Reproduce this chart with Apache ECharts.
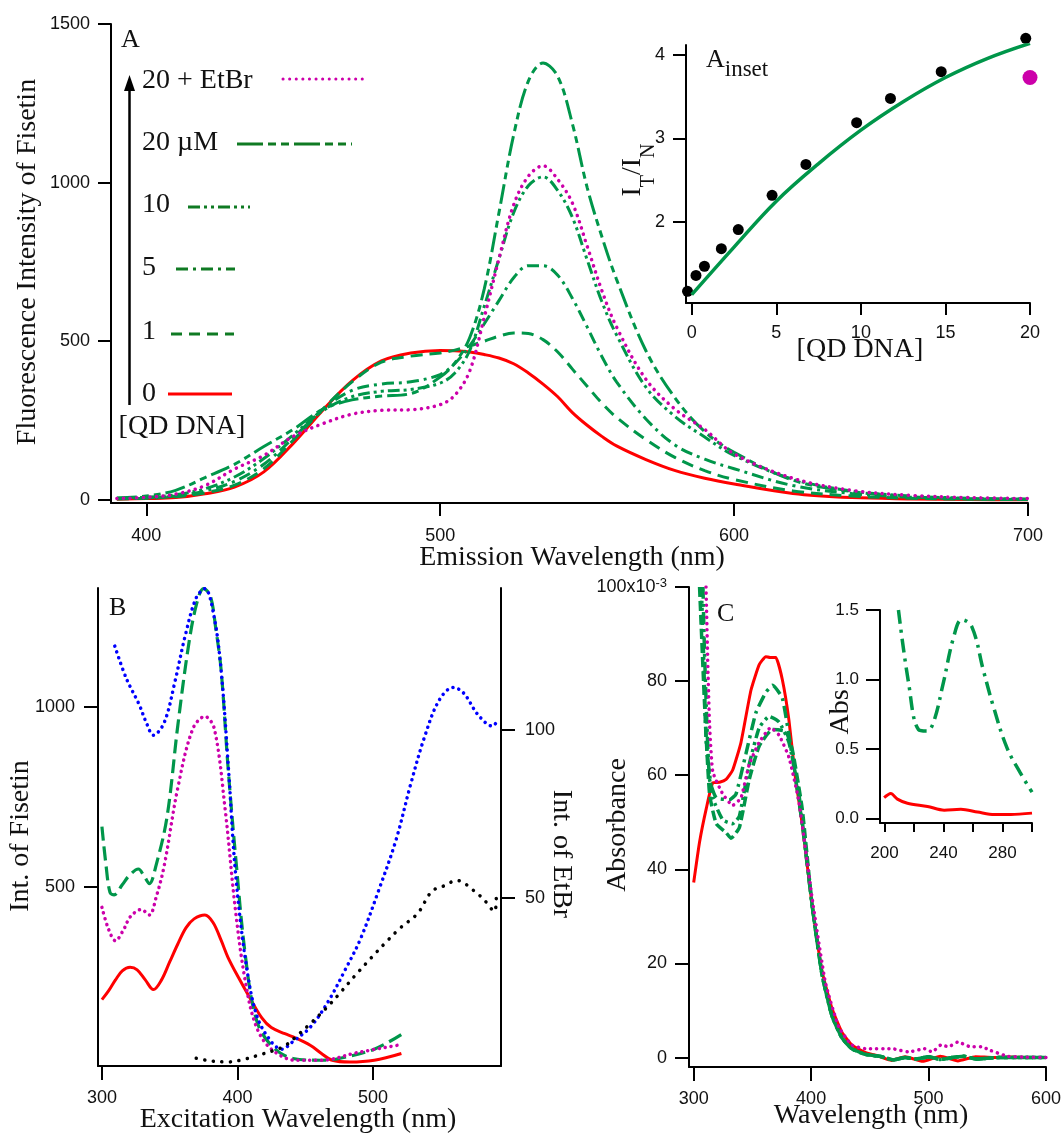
<!DOCTYPE html>
<html><head><meta charset="utf-8">
<script src="https://cdn.jsdelivr.net/npm/echarts@6/dist/echarts.min.js"></script>
<style>html,body{margin:0;padding:0;background:#fff}#c{width:1064px;height:1136px}</style>
</head><body><div id="c"></div><script>
// ---------- Panel A : emission spectra ----------
const aWl   = [390,400,410,420,430,440,450,460,470,480,490,500,505,510,515,520,525,530,535,540,545,550,555,560,570,580,590,600,620,640,660,680,700];
const aQd0  = [2,4,7,19,40,88,178,282,375,438,463,471,470,466,458,447,429,400,365,325,275,235,200,170,127,92,68,50,20,7,3,1,0];
const aQd1  = [3,5,10,22,46,98,188,285,372,434,453,463,472,485,500,516,526,524,505,466,412,358,305,260,190,133,92,64,28,12,5,2,1];
const aQd5  = [4,6,12,28,58,112,195,285,345,365,372,395,430,485,555,628,700,738,738,708,635,545,452,372,255,172,128,98,45,20,8,3,1];
const aQd10 = [5,8,16,35,72,130,205,280,325,342,348,368,400,470,610,760,905,990,1018,975,890,757,625,520,355,262,198,140,65,28,12,5,2];
const aQd20 = [6,12,30,70,112,168,222,285,315,327,335,387,432,510,665,905,1150,1320,1377,1335,1185,985,830,695,470,320,215,150,62,26,10,4,2];
const aEtBr = [4,8,18,45,97,140,200,240,270,282,284,300,330,405,575,760,930,1020,1053,1010,935,800,660,545,380,285,222,145,68,30,14,7,4];
const aXTicks = [400,500,600,700];
const aYTicks = [0,500,1000,1500];
const legendLabels = ['20 + EtBr','20 \u00b5M','10','5','1','0'];

// ---------- Panel A inset ----------
const insQd      = [-0.25,0.25,0.75,1.75,2.75,4.75,6.75,9.75,11.75,14.75,19.75];
const insRatio   = [1.17,1.36,1.47,1.68,1.91,2.32,2.69,3.19,3.48,3.80,4.20];
const insEtQd    = [20];
const insEtRatio = [3.73];
const fitQd      = [0,2.5,5,7.5,10,12.5,15,17.5,20];
const fitRatio   = [1.13,1.70,2.25,2.70,3.10,3.44,3.73,3.96,4.14];
const insXTicks = [0,5,10,15,20];
const insYTicks = [2,3,4];

// ---------- Panel B : excitation spectra ----------
const bRedX   = [300,305,310,315,320.8,326,332,338,344,350,356,362,368,376,382,388,393,401,409,418,425,435,443,454,462,470,483,501,521];
const bRedY   = [185,210,240,265,275,268,240,213,240,290,340,385,410,421,400,350,303,245,191,134,107,90,78,57,35,16,11,16,35];
const bGreenX = [300,303,306,309,315,320,326.9,331,335,340,348,356,364,370,375,380,384,388,393,398.5,406,414,425,441,462,475,501,521];
const bGreenY = [667,560,483,477,505,530,549,530,508,560,693,949,1174,1290,1330,1310,1220,1102,836,590,303,129,57,21,16,21,47,88];
const bMagX   = [300,305,310,316,321,329,335,340,346,356,367,376,383,391,398.5,406,414,425,443,462,488,520];
const bMagY   = [442,380,349,380,416,436,421,470,559,775,939,974,939,713,436,232,109,47,16,16,37,59];
const bBlueX  = [309.5,318,327.4,332.7,338,346,353.8,361.7,369.6,376,382.7,388,393.3,398.6,406.5,414.4,425,432.8,440.7,453.9,467,480,490.8,504,517,527.7,538,548.7,559.3,567,577.7,588.3,591];
const bBlueY  = [124.9,115.3,107.6,102.2,98.4,102.2,114.2,128.4,139.3,142,133.8,117.5,89,57.4,30.1,14.8,7.2,5,7.2,11.6,19.2,29,37.8,52,67.2,83.6,97.8,108.7,112.6,110.9,104.4,101.1,102.2];
const bBlackX = [369.6,380,393,405,417,426,435,444,454,465,475,487,499,510,520,533,543.5,552,562,575,583,589.6,591];
const bBlackY = [2.3,1.5,1.2,2,3.4,4.5,6,9,12.7,17,21.4,27,32.3,37,41,45.4,52,53.5,55.2,52,49,46,49.8];
const bXTicks = [300,400,500];
const bLTicks = [500,1000];
const bRTicks = [50,100];

// ---------- Panel C : absorbance (x10^-3) ----------
const cRedX = [300,305,310.7,316.3,322,327.6,333.2,340.3,348.7,355.8,361.4,365,369.9,375.5,381.1,386.8,392.4,400.8,409.3,417.7,426.2,434.6,445.9,455,468.5,480,495,510,525,540,555,570,585,600];
const cRedY = [37.2,45.8,52.9,58.4,58.5,59.1,61.1,67,78,83.5,85.2,85,85,80.3,71.7,59.1,49.7,32.5,18.4,10.5,5.4,2.7,1.1,0.5,-0.6,0.2,-0.8,0.3,-0.7,0.2,0,0.1,0,0];
const cMagX = [310.5,312.1,313.5,316.3,324.8,333.2,340.3,347.3,355.8,365.6,372.7,381.1,389.6,400.8,412.1,423.4,434.6,445.9,468.5,483,496.6,503,510.7,517,524.8,536,545,553,567,580,600];
const cMagY = [100,82.7,70.9,60.7,56,53.6,55.2,62.3,67,70.1,68.5,63.8,54.4,34,16,6.6,2.7,1.9,1.9,1.2,1.9,1.2,2.7,2.3,3.3,2.3,2.3,1.5,0.3,0.1,0];
const cG1X = [307.9,309,310.7,313.5,319.2,330.4,336,344.5,353,361.4,367,375.5,384,392.4];
const cG1Y = [100,88,74.8,59.1,55.2,54.8,56,64.6,73.3,77.6,79.1,76.4,63.8,49.7];
const cG2X = [306.5,308.5,310.7,316.3,324.8,333.2,338.9,347.3,355.8,364.2,372.7,381.1,389.6];
const cG2Y = [100,85,67,55.2,50.5,49.7,51.3,62.3,70.1,72.5,71.3,67,56];
const cG3X = [305,309.3,313.5,319.2,327.6,331.8,338.9,347.3,355.8,367,378.3,384,392.4];
const cG3Y = [100,74.8,56,49.7,47.8,46.6,48.9,59.1,66.2,69.7,69.3,65.4,52.9];
const cTailX = [400.8,409.3,417.7,426.2,434.6,445.9,460,470,480,490,500,510,520,530,540,560,580,600];
const cTailY = [32.5,17.6,8.9,4.2,1.9,0.7,0.2,-0.5,0,-0.3,0.2,-0.4,0,0.3,-0.3,0,0,0];
const cXTicks = [300,400,500,600];
const cYTicks = [0,20,40,60,80,100];

// ---------- Panel C inset ----------
const ciGreenX = [209.5,216.3,223.1,228.7,233.2,240,246.8,252.5,259.2,267.2,274,283,292,300];
const ciGreenY = [1.5,0.98,0.64,0.63,0.69,0.98,1.30,1.43,1.38,1.06,0.80,0.51,0.33,0.19];
const ciRedX = [199.8,204.3,208.8,215.6,229.2,240.5,251.8,263.1,274.4,285.7,300];
const ciRedY = [0.15,0.18,0.14,0.11,0.087,0.06,0.066,0.047,0.029,0.029,0.039];
const ciXTicks = [200,220,240,260,280,300];
const ciXLabels = [200,240,280];
const ciYTicks = [0,0.5,1,1.5];

// ---------- build ----------
const RED='#ff0000', GREEN='#00964a', LGREEN='#0f7a23', MAG='#cc00aa', BLUE='#0000ff', BLACK='#000000';
const SERIF='"Liberation Serif","Times New Roman",serif';
const SANS='"Liberation Sans",Arial,sans-serif';
const zip = (xs, ys) => xs.map((x, i) => [x, ys[i]]);
const plain = v => String(v);

function vAxis(o) {
  return {
    type: 'value', gridIndex: o.g, min: o.min, max: o.max, position: o.pos,
    axisLine: {show: true, onZero: false, lineStyle: {color: '#000', width: 2}},
    axisTick: {show: true, inside: false, length: o.tick || 13, customValues: o.ticks, lineStyle: {color: '#000', width: 2}},
    axisLabel: {show: true, customValues: o.labels || o.ticks, margin: o.margin || 22, color: '#111',
      fontFamily: SANS, fontSize: o.fs || 18, formatter: o.fmt || plain, rich: o.rich},
    splitLine: {show: false}, minorTick: {show: false}
  };
}
function line(xi, yi, xs, ys, color, width, type, cap, smooth) {
  return {type: 'line', xAxisIndex: xi, yAxisIndex: yi, data: zip(xs, ys), showSymbol: false, symbol: 'none',
    smooth: smooth === undefined ? 0.35 : smooth, clip: true,
    lineStyle: {color: color, width: width, type: type || 'solid', cap: cap || 'butt'}};
}
const DOT = [0.1, 6.5];

const series = [
  line(0,0,aWl,aQd0,RED,3),
  line(0,0,aWl,aQd1,GREEN,3,[12,7]),
  line(0,0,aWl,aQd5,GREEN,3,[12,5,3,5]),
  line(0,0,aWl,aQd10,GREEN,3,[12,4,3,4,3,4]),
  line(0,0,aWl,aQd20,GREEN,3,[20,5,7,5,7,5]),
  line(0,0,aWl,aEtBr,MAG,3.5,DOT,'round'),
  line(1,1,fitQd,fitRatio,GREEN,3.5,'solid','butt',0.4),
  {type:'scatter', xAxisIndex:1, yAxisIndex:1, data: zip(insQd, insRatio), symbolSize: 11, clip: false, itemStyle:{color:'#000', opacity:1}},
  {type:'scatter', xAxisIndex:1, yAxisIndex:1, data: zip(insEtQd, insEtRatio), symbolSize: 15, clip: false, itemStyle:{color:MAG, opacity:1}},
  line(2,2,bRedX,bRedY,RED,3),
  line(2,2,bGreenX,bGreenY,GREEN,3.2,[14,6]),
  line(2,2,bMagX,bMagY,MAG,3.5,[0.1,5.8],'round'),
  line(2,3,bBlueX,bBlueY,BLUE,3.5,[0.1,6],'round'),
  line(2,3,bBlackX,bBlackY,BLACK,3.5,[0.1,8.5],'round'),
  line(3,4,cRedX,cRedY,RED,3,'solid','butt',0.15),
  line(3,4,cG3X.concat(cTailX),cG3Y.concat(cTailY),GREEN,3.5,[10,4],'butt',0.15),
  line(3,4,cG2X.concat(cTailX),cG2Y.concat(cTailY),GREEN,3.5,[10,4,3,4,3,4],'butt',0.15),
  line(3,4,cG1X.concat(cTailX),cG1Y.concat(cTailY),GREEN,3.5,[12,5,3,5],'butt',0.15),
  line(3,4,cMagX,cMagY,MAG,3.5,[0.1,6],'round',0.15),
  line(4,5,ciGreenX,ciGreenY,GREEN,3.5,[14,6,3,6],'butt',0.4),
  line(4,5,ciRedX,ciRedY,RED,3,'solid','butt',0.3)
];

const txt = (t, x, y, o) => ({type:'text', x:x, y:y, rotation: (o && o.rot) || 0,
  style: Object.assign({text:t, font: '28px ' + SERIF, fill:'#111', align:'center', verticalAlign:'middle'}, (o && o.style) || {})});
const lg = (x1, x2, y, dash, color) => ({type:'line', shape:{x1:x1,y1:y,x2:x2,y2:y},
  style:{stroke: color || LGREEN, lineWidth: 3, lineDash: dash || null, lineCap: (dash && dash[0] < 1) ? 'round' : 'butt'}});

const graphic = [
  // Panel A texts
  txt('A', 121, 40, {style:{align:'left', font:'26px ' + SERIF}}),
  txt('Fluorescence Intensity of Fisetin', 28, 262, {rot: Math.PI/2}),
  txt('Emission Wavelength (nm)', 572, 558),
  txt(legendLabels[0], 142, 81, {style:{align:'left'}}),
  txt(legendLabels[1], 142, 143, {style:{align:'left'}}),
  txt(legendLabels[2], 142, 205, {style:{align:'left'}}),
  txt(legendLabels[3], 142, 268, {style:{align:'left'}}),
  txt(legendLabels[4], 142, 332, {style:{align:'left'}}),
  txt(legendLabels[5], 142, 394, {style:{align:'left'}}),
  txt('[QD DNA]', 182, 427),
  lg(283, 367, 79, [0.1, 6.5], MAG),
  lg(237, 352, 144, [26,5,8,5,8,5]),
  lg(188, 250, 207, [12,4,3,4,3,4]),
  lg(176, 235, 269, [12,5,3,5]),
  lg(171, 234, 334, [11,7]),
  lg(168, 232, 394, null, RED),
  {type:'line', shape:{x1:129.5, y1:405, x2:129.5, y2:86}, style:{stroke:'#000', lineWidth:2.5}},
  {type:'polygon', shape:{points:[[124,91],[135,91],[129.5,75]]}, style:{fill:'#000'}},
  // Panel A inset texts
  {type:'text', x:706, y:47, style:{text:'{a|A}{s|inset}', align:'left', verticalAlign:'top', fill:'#111',
    rich:{a:{font:'26px ' + SERIF, verticalAlign:'top'}, s:{font:'23px ' + SERIF, verticalAlign:'top', padding:[11,0,0,0]}}}},
  {type:'text', x:639, y:170, rotation: Math.PI/2, style:{text:'{b|I}{s|T}{b|/I}{s|N}', align:'center', verticalAlign:'middle', fill:'#111',
    rich:{b:{font:'28px ' + SERIF, verticalAlign:'top'}, s:{font:'20px ' + SERIF, verticalAlign:'top', padding:[20,0,0,0]}}}},
  txt('[QD DNA]', 860, 350),
  // Panel B texts
  txt('B', 109, 608, {style:{align:'left', font:'26px ' + SERIF}}),
  txt('Int. of Fisetin', 21, 836, {rot: Math.PI/2}),
  txt('Int. of EtBr', 561, 854, {rot: -Math.PI/2}),
  txt('Excitation Wavelength (nm)', 298, 1120),
  // Panel C texts
  txt('C', 717, 614, {style:{align:'left', font:'26px ' + SERIF}}),
  txt('Absorbance', 618, 825, {rot: Math.PI/2}),
  txt('Wavelength (nm)', 871, 1116),
  txt('Abs', 841, 712, {rot: Math.PI/2})
];

const option = {
  animation: false,
  backgroundColor: '#fff',
  grid: [
    {left:111, top:24, width:917, height:479},
    {left:686, top:45, width:344, height:258},
    {left:98, top:588, width:403, height:478},
    {left:689, top:587, width:360, height:480},
    {left:880, top:610, width:152, height:213}
  ],
  xAxis: [
    vAxis({g:0, min:388, max:700, ticks:aXTicks, margin:24}),
    vAxis({g:1, min:-0.34, max:20, ticks:insXTicks, margin:21, tick:12}),
    vAxis({g:2, min:297.1, max:594.5, ticks:bXTicks, margin:23, tick:14}),
    vAxis({g:3, min:296, max:600, ticks:cXTicks, margin:23, tick:14}),
    vAxis({g:4, min:197, max:300, ticks:ciXTicks, labels:ciXLabels, margin:22, tick:9, fs:17})
  ],
  yAxis: [
    vAxis({g:0, min:-10, max:1500, ticks:aYTicks, margin:21}),
    vAxis({g:1, min:1.03, max:4.12, ticks:insYTicks, margin:21, tick:13}),
    vAxis({g:2, min:0, max:1332, ticks:bLTicks, margin:23, tick:14, pos:'left'}),
    vAxis({g:2, min:0, max:142.2, ticks:bRTicks, margin:24, tick:14, pos:'right'}),
    vAxis({g:3, min:-2, max:100, ticks:cYTicks, margin:22, tick:14,
      fmt: v => (v === 100 ? '100x10{sup|-3}' : String(v)),
      rich:{sup:{fontSize:13, fontFamily:SANS, color:'#111', verticalAlign:'top', padding:[0,0,8,0]}}}),
    vAxis({g:4, min:-0.032, max:1.5, ticks:ciYTicks, margin:21, tick:14, fs:17, fmt: v => v.toFixed(1)})
  ],
  series: series,
  graphic: graphic
};
const chart = echarts.init(document.getElementById('c'), null, {renderer:'canvas'});
chart.setOption(option);
</script></body></html>
